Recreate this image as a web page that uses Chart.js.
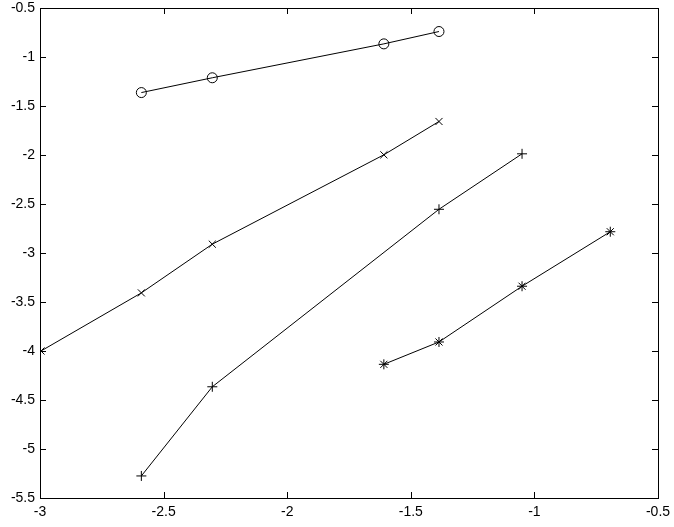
<!DOCTYPE html>
<html>
<head>
<meta charset="utf-8">
<script src="https://cdn.jsdelivr.net/npm/chart.js@4"></script>
<style>
  html, body { margin: 0; padding: 0; background: #fff; }
  #wrap { width: 674px; height: 527px; }
</style>
</head>
<body>
<div id="wrap"><canvas id="plot" width="674" height="527"></canvas></div>
<script>
// -------------------
// Data
// -------------------
const circleX = [-2.590, -2.303, -1.609, -1.386];
const circleY = [-1.363, -1.212, -0.866, -0.740];

const crossX = [-2.996, -2.590, -2.303, -1.609, -1.386];
const crossY = [-4.000, -3.407, -2.910, -1.998, -1.658];

const plusX = [-2.590, -2.303, -1.386, -1.050];
const plusY = [-5.275, -4.365, -2.554, -1.988];

const starX = [-1.609, -1.386, -1.050, -0.693];
const starY = [-4.136, -3.908, -3.339, -2.783];

const xTicks = [-3, -2.5, -2, -1.5, -1, -0.5];
const yTicks = [-5.5, -5, -4.5, -4, -3.5, -3, -2.5, -2, -1.5, -1, -0.5];

function pts(xs, ys) {
  return xs.map((x, i) => ({ x: x, y: ys[i] }));
}

function series(xs, ys, style, r) {
  return {
    data: pts(xs, ys),
    showLine: true,
    borderColor: '#000',
    borderWidth: 1,
    backgroundColor: 'rgba(0,0,0,0)',
    pointStyle: style,
    pointRadius: r,
    pointBorderColor: '#000',
    pointBorderWidth: 1,
    pointBackgroundColor: 'rgba(0,0,0,0)',
    tension: 0
  };
}

// box + inward ticks on all four sides, matlab style
const boxPlugin = {
  id: 'box',
  afterDraw(chart) {
    const ctx = chart.ctx;
    const a = chart.chartArea;
    const xs = chart.scales.x, ys = chart.scales.y;
    const len = 6;
    ctx.save();
    ctx.strokeStyle = '#000';
    ctx.lineWidth = 1;
    ctx.strokeRect(Math.round(a.left) + 0.5, Math.round(a.top) + 0.5,
                   Math.round(a.right - a.left), Math.round(a.bottom - a.top));
    ctx.beginPath();
    xTicks.forEach(v => {
      const px = Math.round(xs.getPixelForValue(v)) + 0.5;
      ctx.moveTo(px, a.bottom); ctx.lineTo(px, a.bottom - len);
      ctx.moveTo(px, a.top); ctx.lineTo(px, a.top + len);
    });
    yTicks.forEach(v => {
      const py = Math.round(ys.getPixelForValue(v)) + 0.5;
      ctx.moveTo(a.left, py); ctx.lineTo(a.left + len, py);
      ctx.moveTo(a.right, py); ctx.lineTo(a.right - len, py);
    });
    ctx.stroke();
    ctx.restore();
  }
};

const tickFont = { family: '"Liberation Sans", Arial, Helvetica, sans-serif', size: 14 };
const fmt = v => String(v);

new Chart(document.getElementById('plot'), {
  type: 'scatter',
  data: {
    datasets: [
      series(circleX, circleY, 'circle', 5),
      series(crossX, crossY, 'crossRot', 5),
      series(plusX, plusY, 'cross', 5),
      series(starX, starY, 'star', 5)
    ]
  },
  options: {
    responsive: false,
    animation: false,
    events: [],
    layout: { padding: { top: 8, right: 16, left: 0, bottom: 0 } },
    plugins: { legend: { display: false }, tooltip: { enabled: false } },
    scales: {
      x: {
        type: 'linear',
        min: -3, max: -0.5,
        afterBuildTicks: s => { s.ticks = xTicks.map(v => ({ value: v })); },
        afterFit: s => { s.height = 29; s.paddingLeft = 0; s.paddingRight = 0; },
        grid: { display: false, drawTicks: false },
        border: { display: false },
        ticks: { color: '#000', font: tickFont, padding: 6, maxRotation: 0, autoSkip: false, callback: fmt }
      },
      y: {
        type: 'linear',
        min: -5.5, max: -0.5,
        afterBuildTicks: s => { s.ticks = yTicks.map(v => ({ value: v })); },
        afterFit: s => { s.width = 40; s.paddingTop = 0; s.paddingBottom = 0; },
        grid: { display: false, drawTicks: false },
        border: { display: false },
        ticks: { color: '#000', font: tickFont, padding: 5, autoSkip: false, callback: fmt }
      }
    }
  },
  plugins: [boxPlugin]
});
</script>
</body>
</html>
